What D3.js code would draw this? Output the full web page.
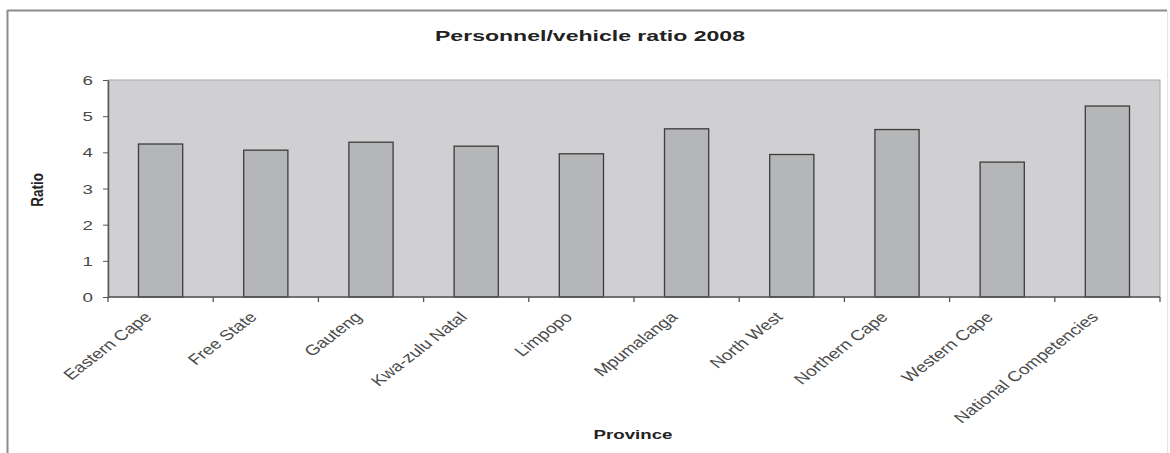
<!DOCTYPE html>
<html>
<head>
<meta charset="utf-8">
<script src="https://cdn.jsdelivr.net/npm/d3@7"></script>
<style>
  body { margin: 0; background: #fff; }
  text { font-family: Arial, "Liberation Sans", sans-serif; }
</style>
</head>
<body>
<script>
var w = 1170;
var h = 453;

// data
var provinces = ["Eastern Cape", "Free State", "Gauteng", "Kwa-zulu Natal", "Limpopo",
                 "Mpumalanga", "North West", "Northern Cape", "Western Cape", "National Competencies"];
var ratios = [4.23, 4.06, 4.28, 4.17, 3.96, 4.65, 3.94, 4.63, 3.73, 5.28];
var yTicks = [0, 1, 2, 3, 4, 5, 6];

// plot area
var plotLeft = 108, plotRight = 1160, plotTop = 80, plotBottom = 297;
// the original picture is stretched sideways, so text is too
var sx = 1.5;
var labelSx = 1.3;

var data = provinces.map(function(p, i){ return {name: p, value: ratios[i]}; });

var svg = d3.select("body").append("svg")
            .attr("width", w)
            .attr("height", h);

// outer chart border
svg.append("line").attr("x1", 7.5).attr("y1", 10.5).attr("x2", 1167).attr("y2", 10.5)
   .attr("stroke", "#8c8c8c").attr("stroke-width", 2);
svg.append("line").attr("x1", 7.5).attr("y1", 10).attr("x2", 7.5).attr("y2", h)
   .attr("stroke", "#8c8c8c").attr("stroke-width", 2);
svg.append("line").attr("x1", 1167.5).attr("y1", 11).attr("x2", 1167.5).attr("y2", h)
   .attr("stroke", "#e4e4e4").attr("stroke-width", 1);

var x = d3.scaleBand()
          .domain(provinces)
          .range([plotLeft, plotRight])
          .paddingInner(0.58)
          .paddingOuter(0.29);

var y = d3.scaleLinear()
          .domain([0, 6])
          .range([plotBottom, plotTop]);

// plot background
svg.append("rect")
   .attr("x", plotLeft).attr("y", plotTop)
   .attr("width", plotRight - plotLeft).attr("height", plotBottom - plotTop)
   .attr("fill", "#d0d0d2")
   .attr("stroke", "#a8a8aa")
   .attr("stroke-width", 1);

// bars
svg.append("g").attr("id", "bars")
   .selectAll("rect")
   .data(data)
   .enter()
   .append("rect")
   .attr("x", function(d){ return x(d.name); })
   .attr("y", function(d){ return y(d.value); })
   .attr("width", x.bandwidth())
   .attr("height", function(d){ return y(0) - y(d.value); })
   .attr("fill", "#b5b6b8")
   .attr("stroke", "#3c3c3c")
   .attr("stroke-width", 1.3);

// y axis
var yAxis = svg.append("g")
               .attr("transform", "translate(" + plotLeft + ",0)")
               .call(d3.axisLeft(y).tickValues(yTicks).tickSize(5).tickSizeOuter(0).tickFormat(d3.format("d")));
yAxis.select(".domain").attr("stroke", "#555").attr("stroke-width", 1.5);
yAxis.selectAll(".tick line").attr("stroke", "#555");
yAxis.selectAll(".tick text")
     .attr("x", null)
     .attr("dy", "0.36em")
     .attr("transform", "translate(-15,0) scale(" + sx + ",1)")
     .attr("fill", "#4a4a4a")
     .style("font-size", "12.5px");

// x axis line and tick marks between categories
var step = x.step();
var bounds = provinces.map(function(p){ return x(p) - (step - x.bandwidth()) / 2; });
bounds.push(plotRight);

var xAxis = svg.append("g").attr("id", "x-axis");
xAxis.append("line")
     .attr("x1", plotLeft).attr("x2", plotRight)
     .attr("y1", plotBottom).attr("y2", plotBottom)
     .attr("stroke", "#555").attr("stroke-width", 1.5);
xAxis.selectAll("line.tk")
     .data(bounds)
     .enter()
     .append("line")
     .attr("class", "tk")
     .attr("x1", function(d){ return d; }).attr("x2", function(d){ return d; })
     .attr("y1", plotBottom).attr("y2", plotBottom + 5)
     .attr("stroke", "#555").attr("stroke-width", 1.3);

// rotated category labels
xAxis.selectAll("text")
     .data(provinces)
     .enter()
     .append("text")
     .attr("transform", function(d){
        var cx = x(d) + x.bandwidth() / 2;
        return "translate(" + (cx - 8) + "," + (plotBottom + 21) + ") scale(" + labelSx + ",1) rotate(-45)";
     })
     .attr("text-anchor", "end")
     .attr("fill", "#4a4a4a")
     .style("font-size", "14.5px")
     .text(function(d){ return d; });

// titles
svg.append("text")
   .attr("x", 590).attr("y", 41)
   .attr("text-anchor", "middle")
   .attr("textLength", 310)
   .attr("lengthAdjust", "spacingAndGlyphs")
   .attr("fill", "#222")
   .style("font-size", "15px")
   .style("font-weight", "bold")
   .text("Personnel/vehicle ratio 2008");

svg.append("text")
   .attr("x", 633).attr("y", 439)
   .attr("text-anchor", "middle")
   .attr("textLength", 79)
   .attr("lengthAdjust", "spacingAndGlyphs")
   .attr("fill", "#222")
   .style("font-size", "13.5px")
   .style("font-weight", "bold")
   .text("Province");

svg.append("text")
   .attr("transform", "translate(43,190) scale(1.2,1) rotate(-90)")
   .attr("text-anchor", "middle")
   .attr("fill", "#222")
   .style("font-size", "13.5px")
   .style("font-weight", "bold")
   .text("Ratio");
</script>
</body>
</html>
